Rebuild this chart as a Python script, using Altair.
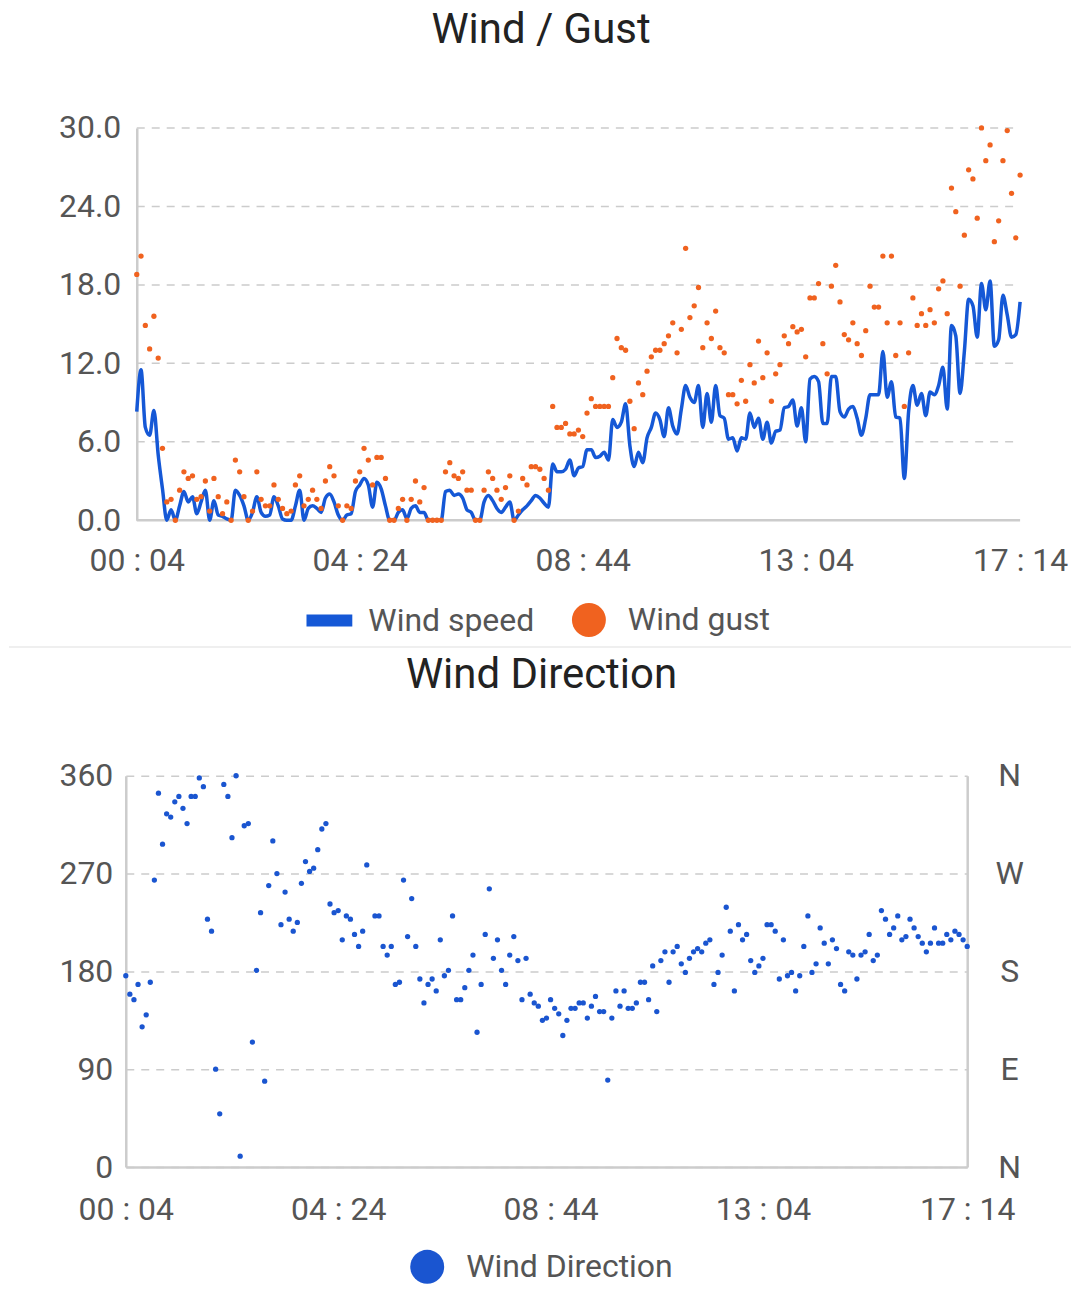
import altair as alt
import pandas as pd

# samples every 5 minutes from 00:04 to 17:14
start_minute = 4
step_minutes = 5

wind_speed = [
    8.3, 11.5, 7.1, 6.5, 8.4, 5.0, 2.4, 0, 0.8, 0, 1.1, 2.2, 1.4, 1.8, 0.5, 1.4, 2.3, 0, 1.5, 0.4,
    0.3, 0.1, 0, 2.3, 1.9, 1.1, 0, 0.6, 1.8, 0.6, 0.3, 0.4, 1.8, 1.1, 0.1, 0, 0, 1.1, 2.3, 0,
    0.9, 1.1, 0.9, 0.6, 1.7, 2.0, 1.4, 0.4, 0, 0.4, 0.5, 2.2, 2.7, 3.2, 2.7, 1.0, 2.9, 2.4, 1.1, 0,
    0, 0.6, 0.8, 0.1, 0.9, 1.1, 0.6, 0.6, 0, 0, 0, 0, 2.2, 2.3, 1.9, 2.0, 1.7, 0.8, 0.6, 0,
    0, 1.4, 1.9, 1.5, 0.9, 0.6, 1.0, 1.4, 0, 0.4, 0.8, 1.1, 1.5, 1.9, 1.7, 1.3, 1.0, 4.3, 3.7, 3.7,
    3.9, 4.6, 3.4, 4.0, 4.1, 5.4, 5.4, 4.8, 4.9, 5.2, 4.6, 7.7, 7.1, 7.5, 8.9, 5.7, 4.1, 5.2, 4.4, 6.3,
    7.1, 8.2, 7.7, 6.4, 8.6, 7.2, 6.6, 8.5, 10.3, 9.4, 9.0, 10.3, 7.1, 9.7, 7.5, 10.3, 8.0, 7.8, 6.2, 6.3,
    5.3, 6.3, 6.2, 8.2, 7.1, 7.8, 6.2, 7.5, 5.9, 6.8, 6.9, 8.6, 8.7, 9.2, 7.2, 8.6, 6.0, 10.8, 11.0, 10.6,
    7.4, 7.4, 11.0, 11.0, 8.3, 7.9, 8.5, 8.7, 7.8, 6.5, 7.8, 9.6, 9.6, 9.6, 12.9, 9.4, 10.6, 7.9, 7.8, 3.2,
    8.3, 10.3, 8.8, 9.7, 8.0, 9.8, 9.6, 10.3, 11.7, 8.5, 14.9, 14.1, 9.7, 12.9, 16.9, 16.4, 14.0, 18.1, 16.1, 18.3,
    13.3, 13.8, 17.2, 15.7, 14.0, 14.2, 16.7,
]
wind_gust = [
    18.8, 20.2, 14.9, 13.1, 15.6, 12.4, 5.5, 1.4, 1.6, 0, 2.3, 3.7, 3.2, 3.4, 1.6, 1.8, 3.0, 0.7, 3.2, 1.8,
    0.5, 1.4, 0, 4.6, 3.7, 1.8, 0, 0.7, 3.7, 1.6, 1.1, 1.1, 2.7, 1.6, 0.9, 0.5, 0.7, 2.7, 3.4, 1.1,
    1.6, 2.3, 1.6, 0.9, 3.0, 4.1, 3.4, 1.1, 0, 1.1, 0.9, 3.0, 3.7, 5.5, 4.6, 2.7, 4.8, 4.8, 3.2, 0,
    0, 0.9, 1.6, 0, 1.6, 3.0, 1.4, 2.5, 0, 0, 0, 0, 3.7, 4.4, 3.4, 3.2, 3.7, 2.3, 2.3, 0,
    0, 2.3, 3.7, 3.2, 2.3, 1.6, 2.5, 3.4, 0, 0.7, 3.2, 2.7, 4.1, 4.1, 3.9, 3.2, 2.3, 8.7, 7.1, 7.1,
    7.4, 6.6, 6.6, 6.9, 6.4, 8.2, 9.3, 8.7, 8.7, 8.7, 8.7, 10.9, 13.9, 13.2, 13.0, 9.1, 7.0, 10.5, 9.6, 11.4,
    12.5, 13.0, 13.0, 13.5, 14.1, 15.1, 12.8, 14.6, 20.8, 15.5, 16.4, 17.8, 13.2, 15.1, 13.9, 16.0, 13.2, 12.8, 9.6, 9.6,
    8.9, 10.7, 9.1, 11.9, 10.5, 13.7, 10.9, 12.8, 9.1, 11.2, 11.9, 14.1, 13.5, 14.8, 14.4, 14.6, 12.5, 17.0, 17.0, 18.1,
    13.5, 11.2, 17.9, 19.5, 16.7, 14.2, 13.8, 15.1, 13.5, 12.6, 14.5, 17.9, 16.3, 16.3, 20.2, 15.1, 20.2, 12.6, 15.1, 8.7,
    12.8, 17.0, 14.9, 15.8, 14.9, 16.1, 15.1, 17.7, 18.3, 15.8, 25.4, 23.6, 17.9, 21.8, 26.8, 26.1, 23.1, 30.0, 27.5, 28.7,
    21.3, 22.9, 27.5, 29.8, 25.0, 21.6, 26.4,
]
wind_direction = [
    176, 159, 154, 168, 129, 140, 170, 264, 344, 297, 325, 322, 336, 341, 330, 316, 341, 341, 358, 350,
    228, 217, 90, 49, 352, 341, 303, 360, 10, 314, 316, 115, 181, 234, 79, 259, 300, 270, 223, 253,
    228, 217, 225, 261, 281, 272, 275, 292, 311, 316, 242, 234, 236, 209, 231, 228, 214, 203, 217, 278,
    None, 231, 231, 203, 195, 203, 168, 170, 264, 212, 247, 203, 173, 151, 168, 173, 162, 209, 176, 181,
    231, 154, 154, 165, 181, 195, 124, 168, 214, 256, 192, 209, 181, 168, 195, 212, 190, 154, 192, 159,
    151, 148, 135, 137, 154, 146, 141, 121, 135, 146, 146, 151, 151, 137, 148, 157, 143, 143, 80, 137,
    162, 148, 162, 146, 146, 151, 170, 170, 154, 185, 143, 190, 198, 170, 198, 203, 187, 179, 192, 198,
    201, 198, 206, 209, 168, 179, 195, 239, 217, 162, 223, 209, 214, 190, 179, 185, 192, 223, 223, 217,
    173, 209, 176, 179, 162, 176, 203, 231, 179, 187, 220, 206, 187, 209, 201, 168, 162, 198, 195, 173,
    195, 198, 214, 190, 195, 236, 228, 214, 220, 231, 209, 212, 228, 220, 212, 206, 198, 206, 220, 206,
    206, 214, 209, 217, 214, 209, 203,
]

time_ticks = [4, 264, 524, 784, 1034]
time_domain = [4, 1034]
speed_ticks = [0, 6, 12, 18, 24, 30]
direction_ticks = [0, 90, 180, 270, 360]
compass_points = ["N", "E", "S", "W", "N"]
top_series = ["Wind speed", "Wind gust"]
dir_series = ["Wind Direction"]

FONT = "Roboto"
LABEL = "#555555"
GRID = "#cccccc"
BLUE = "#1558d6"
ORANGE = "#f0621f"
DIR_BLUE = "#1a55d0"
BAR_SYMBOL = "M-1.35,-0.35H1.35V0.35H-1.35Z"
INSET = 11  # the upper plot starts a little right of the lower one

minutes = [start_minute + step_minutes * i for i in range(len(wind_speed))]
speed_df = pd.DataFrame({"minute": minutes, "value": wind_speed})
gust_df = pd.DataFrame({"minute": minutes, "value": wind_gust, "series": "Wind gust"})
grid_df = pd.DataFrame({"value": speed_ticks[1:]})
dir_df = pd.DataFrame({"minute": minutes, "direction": wind_direction, "kind": "Wind Direction"})

time_expr = "format(floor(datum.value / 60), '02d') + ' : ' + format(datum.value % 60, '02d')"
compass_expr = "".join(
    f"datum.value == {d} ? '{c}' : " for d, c in zip(direction_ticks, compass_points)
) + "''"
blank = alt.Data(values=[{}])


def time_axis(pad, scale, domain=True):
    return alt.X(
        "minute:Q",
        scale=scale,
        axis=alt.Axis(values=time_ticks, labelExpr=time_expr, title=None, grid=False,
                      ticks=False, tickSize=0, labelPadding=pad, labelOverlap=False,
                      labelFlush=False, labelBound=False, domain=domain),
    )


def legend(x, y):
    return alt.Legend(orient="none", legendX=x, legendY=y, direction="horizontal", title=None,
                      symbolSize=1156, symbolStrokeWidth=0, symbolOpacity=1, labelLimit=400,
                      labelOffset=22, columnPadding=37)


# ---- Wind / Gust ----
top_width = 885 + INSET
speed_scale = alt.Scale(domain=[0, 30], nice=False)
top_x = time_axis(25, alt.Scale(domain=time_domain, nice=False, zero=False,
                                range=[INSET, top_width]), domain=False)
top_y = alt.Y("value:Q", scale=speed_scale,
              axis=alt.Axis(values=speed_ticks, format=".1f", title=None, ticks=False,
                            tickSize=0, labelPadding=16, grid=False, offset=-INSET))

# thin grey line between the two panels
separator = alt.Chart(blank).mark_rule(color="#e0e0e0").encode(
    x=alt.value(-117), x2=alt.value(947), y=alt.value(520))

# dashed grid across the plot, solid base line along zero speed
grid = alt.Chart(grid_df).mark_rule(color=GRID, strokeWidth=1.5, strokeDash=[8, 7]).encode(
    x=alt.datum(time_domain[0]), x2=alt.datum(time_domain[1]), y=top_y)
baseline = alt.Chart(blank).mark_rule(color=GRID, strokeWidth=2.5).encode(
    x=alt.datum(time_domain[0]), x2=alt.datum(time_domain[1]), y=alt.datum(0))

speed_line = alt.Chart(speed_df).mark_line(
    color=BLUE, strokeWidth=3.5, interpolate="monotone").encode(x=top_x, y=top_y)

# legend lists both series through the explicit scale domains
top_legend = legend(187, 476)
gust_dots = alt.Chart(gust_df).mark_point(filled=True, size=28, opacity=1).encode(
    x=top_x,
    y=top_y,
    color=alt.Color("series:N", scale=alt.Scale(domain=top_series, range=[BLUE, ORANGE]),
                    legend=top_legend),
    shape=alt.Shape("series:N", scale=alt.Scale(domain=top_series, range=[BAR_SYMBOL, "circle"]),
                    legend=top_legend),
)

top = alt.layer(separator, grid, baseline, speed_line, gust_dots).properties(
    width=top_width, height=393,
    title=alt.TitleParams("Wind / Gust", frame="group", anchor="middle", dx=-32, offset=60),
)

# ---- Wind Direction ----
bot_x = time_axis(28, alt.Scale(domain=time_domain, nice=False, zero=False))
left_y = alt.Y("direction:Q", scale=alt.Scale(domain=[0, 360], nice=False),
               axis=alt.Axis(values=direction_ticks, title=None, ticks=False, tickSize=0,
                             labelPadding=13, gridDash=[8, 7]))
right_y = alt.Y("direction:Q", scale=alt.Scale(domain=[0, 360], nice=False),
                axis=alt.Axis(orient="right", values=direction_ticks, labelExpr=compass_expr,
                              title=None, ticks=False, tickSize=0, grid=False,
                              labelAlign="center", labelPadding=42))

dir_dots = alt.Chart(dir_df).mark_point(filled=True, size=28, opacity=1).encode(
    x=bot_x,
    y=left_y,
    color=alt.Color("kind:N", scale=alt.Scale(domain=dir_series, range=[DIR_BLUE]),
                    legend=legend(285, 475)),
)
compass = alt.Chart(dir_df).mark_point(opacity=0).encode(x=bot_x, y=right_y)

bottom = alt.layer(dir_dots, compass).resolve_scale(y="independent").properties(
    width=843, height=392,
    title=alt.TitleParams("Wind Direction", frame="group", anchor="middle", dx=-5, offset=63),
)

chart = (
    alt.vconcat(top, bottom, spacing=6)
    .resolve_scale(color="independent", shape="independent")
    .resolve_legend(color="independent", shape="independent")
    .properties(padding=0, background="white")
    .configure_view(strokeWidth=0)
    .configure_axis(labelFont=FONT, labelFontSize=32, labelColor=LABEL, domainColor=GRID,
                    domainWidth=2.5, gridColor=GRID, gridWidth=1.5)
    .configure_legend(labelFont=FONT, labelFontSize=32, labelColor=LABEL)
    .configure_title(font=FONT, fontSize=42, fontWeight="normal", color="#222222")
)

chart.save("out.html", embed_options={"renderer": "svg", "actions": False})
